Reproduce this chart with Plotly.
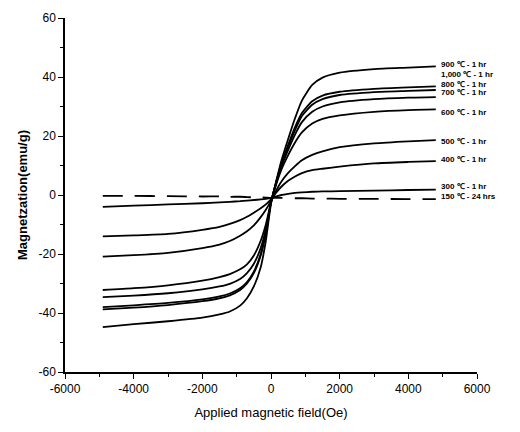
import plotly.graph_objects as go

field = [-4900, -4000, -3000, -2000, -1500, -1200, -900, -700, -500, -300, -150, 0,
         150, 300, 500, 700, 900, 1200, 1500, 2000, 3000, 4000, 4800]

m_900 = [-44.8, -43.8, -42.8, -41.6, -40.5, -39.5, -37.5, -35.0, -31.0, -24.5, -15.5, -3.0,
         4.5, 11.5, 19.0, 26.0, 32.0, 37.3, 39.8, 41.5, 42.7, 43.2, 43.6]
m_1000 = [-38.8, -38.2, -37.3, -36.0, -35.0, -34.0, -32.2, -30.0, -26.5, -20.5, -13.0, -2.5,
          4.5, 10.5, 17.0, 23.0, 27.8, 31.8, 33.7, 35.0, 36.0, 36.5, 36.8]
m_800 = [-38.0, -37.4, -36.6, -35.4, -34.4, -33.4, -31.6, -29.5, -26.0, -20.0, -12.5, -2.5,
         4.2, 10.0, 16.3, 22.0, 26.8, 30.6, 32.5, 33.9, 34.9, 35.3, 35.6]
m_700 = [-34.6, -34.1, -33.3, -32.0, -31.0, -30.1, -28.5, -26.5, -23.3, -18.0, -11.5, -2.5,
         4.0, 9.5, 15.3, 20.5, 24.7, 28.2, 30.0, 31.4, 32.5, 33.0, 33.2]
m_600 = [-32.2, -31.6, -30.6, -29.0, -27.8, -26.8, -25.2, -23.5, -20.5, -15.5, -10.0, -2.5,
         3.5, 8.5, 13.5, 17.8, 21.2, 24.2, 25.8, 27.0, 28.2, 28.8, 29.0]
m_500 = [-20.9, -20.4, -19.6, -18.0, -16.8, -15.6, -13.8, -12.3, -10.3, -7.5, -5.0, -2.0,
         1.5, 4.5, 7.5, 9.8, 11.8, 13.6, 14.8, 16.2, 17.5, 18.2, 18.6]
m_400 = [-14.0, -13.7, -13.2, -11.8, -10.8, -9.8, -8.5, -7.4, -6.0, -4.5, -3.2, -1.5,
         0.8, 2.8, 4.8, 6.3, 7.4, 8.4, 8.9, 9.6, 10.7, 11.2, 11.5]
m_300 = [-4.0, -3.6, -3.2, -2.8, -2.5, -2.3, -2.1, -1.9, -1.7, -1.5, -1.3, -1.0,
         -0.5, 0.0, 0.4, 0.7, 0.9, 1.1, 1.2, 1.3, 1.5, 1.7, 1.8]
m_150 = [-0.3, -0.3, -0.4, -0.5, -0.5, -0.6, -0.6, -0.7, -0.8, -0.8, -0.9, -1.0,
         -1.0, -1.0, -1.1, -1.1, -1.1, -1.2, -1.2, -1.3, -1.3, -1.4, -1.4]

series = [
    ("900 ℃ - 1 hr", m_900, "solid"),
    ("1,000 ℃ - 1 hr", m_1000, "solid"),
    ("800 ℃ - 1 hr", m_800, "solid"),
    ("700 ℃ - 1 hr", m_700, "solid"),
    ("600 ℃ - 1 hr", m_600, "solid"),
    ("500 ℃ - 1 hr", m_500, "solid"),
    ("400 ℃ - 1 hr", m_400, "solid"),
    ("300 ℃ - 1 hr", m_300, "solid"),
    ("150 ℃ - 24 hrs", m_150, "20px,12px"),
]

label_y = [44.1, 40.7, 37.6, 34.6, 28.1, 18.0, 11.9, 3.0, -0.6]

x_ticks = [-6000, -4000, -2000, 0, 2000, 4000, 6000]
x_ticktext = ["-6000", "-4000", "-2000", "0", "2000", "4000", "6000"]
y_ticks = [-60, -40, -20, 0, 20, 40, 60]
y_ticktext = ["-60", "-40", "-20", "0", "20", "40", "60"]

fig = go.Figure()
for (name, vals, dash) in series:
    fig.add_trace(go.Scatter(x=field, y=vals, mode="lines", name=name,
                             line=dict(color="black", width=1.8, dash=dash,
                                       shape="spline", smoothing=0.6)))

for (name, vals, dash), ly in zip(series, label_y):
    fig.add_annotation(x=4900, y=ly, text=name, showarrow=False,
                       xanchor="left", yanchor="middle",
                       font=dict(family="Liberation Sans, Arial", size=8,
                                 color="black", weight="bold"))

axis_font = dict(family="Liberation Sans, Arial", size=12, color="black")
fig.update_layout(
    width=520, height=432,
    margin=dict(l=65, r=43, t=18, b=60),
    paper_bgcolor="white", plot_bgcolor="white",
    showlegend=False,
    font=axis_font,
    xaxis=dict(range=[-6000, 6000], tickvals=x_ticks, ticktext=x_ticktext,
               showline=True, linecolor="black", linewidth=1.5, mirror=False,
               ticks="outside", ticklen=5, tickwidth=1.2, tickcolor="black",
               minor=dict(dtick=1000, ticks="outside", ticklen=3, tickcolor="black"),
               showgrid=False, zeroline=False, tickfont=axis_font,
               title=dict(text="Applied magnetic field(Oe)",
                          font=dict(family="Liberation Sans, Arial", size=13, color="black"),
                          standoff=13)),
    yaxis=dict(range=[-60, 60], tickvals=y_ticks, ticktext=y_ticktext,
               showline=True, linecolor="black", linewidth=1.5, mirror=False,
               ticks="outside", ticklen=5, tickwidth=1.2, tickcolor="black",
               minor=dict(dtick=10, ticks="outside", ticklen=3, tickcolor="black"),
               showgrid=False, zeroline=False, tickfont=axis_font,
               title=dict(text="Magnetzation(emu/g)",
                          font=dict(family="Liberation Sans, Arial", size=13, color="black", weight="bold"),
                          standoff=8)),
)

fig.write_html("out.html")
